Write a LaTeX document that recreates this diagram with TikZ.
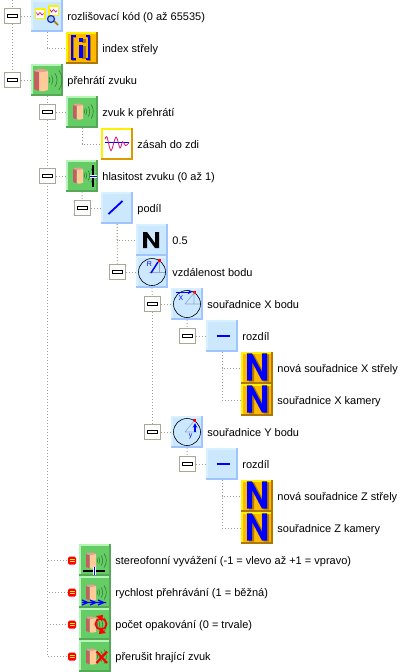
\documentclass[tikz,border=0pt]{standalone}
\usepackage{fontspec}
\setmainfont{Liberation Sans}
\usepackage{xcolor}
\usetikzlibrary{positioning}
\usetikzlibrary{backgrounds}

\definecolor{bluefill}{HTML}{CCE8FF}
\definecolor{bluelight}{HTML}{D8F0FF}
\definecolor{bluedark}{HTML}{A0C4FF}
\definecolor{greenfill}{HTML}{66CC66}
\definecolor{greenlight}{HTML}{B4F4B4}
\definecolor{greendark}{HTML}{55A855}
\definecolor{orangefill}{HTML}{FFB800}
\definecolor{orangedark}{HTML}{B07800}
\definecolor{treegrey}{HTML}{A0A090}
\definecolor{boxgrey}{HTML}{A8A898}
\definecolor{spkred}{HTML}{C06060}
\definecolor{spkpeach}{HTML}{FFCC99}
\definecolor{spktop}{HTML}{E8A090}
\definecolor{spkwave}{HTML}{308030}
\definecolor{wavepink}{HTML}{E0107A}
\definecolor{anglegrey}{HTML}{90A8D0}

\tikzset{
tile/.style n args={3}{shape=rectangle,minimum size=32pt,inner sep=0pt,fill=#1,
  path picture={
    \fill[#2] (path picture bounding box.north west) rectangle +(32,2);
    \fill[#2] (path picture bounding box.north west) rectangle +(2,32);
    \fill[#3] (path picture bounding box.south west) rectangle +(32,-2.5);
    \fill[#3] (path picture bounding box.north east) rectangle +(-2.5,32);
  }},
bluetile/.style={tile={bluefill}{bluelight}{bluedark}},
greentile/.style={tile={greenfill}{greenlight}{greendark}},
orangetile/.style={tile={orangefill}{yellow}{orangedark}},
whitetile/.style={tile={white}{yellow}{orangefill!85!black}},
rowtext/.style={font=\fontsize{11}{13}\selectfont,inner sep=0pt,text height=8pt,text depth=2pt,yshift=-1.2pt},
treeline/.style={draw=treegrey,line width=.9pt,dash pattern=on 1pt off 2pt},
btnminus/.style={shape=rectangle,draw=boxgrey,line width=1.2pt,fill=white,minimum size=15.5pt,inner sep=0pt,
  path picture={
    \draw[black,line width=.9pt] ([shift={(-4.6,-1.4)}]path picture bounding box.center) rectangle +(9.5,3);
  }},
btnred/.style={shape=rectangle,fill=red,rounded corners=1.5pt,minimum width=8pt,minimum height=8pt,inner sep=0pt,
  path picture={
    \draw[yellow,line width=.8pt] ([shift={(-2.5,-1.2)}]path picture bounding box.center) -- +(5,0);
    \draw[yellow,line width=.8pt] ([shift={(-2.5,1.2)}]path picture bounding box.center) -- +(5,0);
  }},
speaker/.pic={
  \fill[spkpeach] (-8,-9) -- (1,-9) -- (1,10) .. controls (-2,11.5) and (-5,11.5) .. (-8,11) -- cycle;
  \fill[spkred] (-13,-9) -- (-8,-8) -- (-8,11) -- (-13,9) -- cycle;
  \fill[spktop] (-13,-9) .. controls (-11,-11.5) and (-2,-12) .. (1,-9) .. controls (-3,-7.5) and (-9,-7.5) .. (-13,-9) -- cycle;
  \foreach \r in {5,8,12,17} \draw[spkwave,line width=.6pt] (-2,0) ++(-35:\r) arc (-35:35:\r);
},
nletter/.pic={
  \fill (-8,8) -- (-8,-8) -- (-4,-8) -- (4,3) -- (4,-8) -- (8,-8) -- (8,8) -- (4,8) -- (-4,-3) -- (-4,8) -- cycle;
},
bign/.pic={
  \pic[fill=orangedark,xscale=1.25,yscale=1.7] at (2,0) {nletter};
  \pic[fill=blue,xscale=1.25,yscale=1.7] at (0,-1) {nletter};
},
framewave/.pic={
  \fill[yellow] (-5.5,-5.5) rectangle (5.5,5.5);
  \fill[white] (-4,-4) rectangle (4,4);
  \draw[wavepink,line width=.7pt] plot[smooth] coordinates {(-3.5,-1) (-2,1.5) (0,-1) (2,1.5) (3.5,0)};
},
circlebase/.pic={
  \draw[black,line width=.6pt,fill=bluefill] (0,0) circle (13.5);
  \fill[red] (6,-13) rectangle (9,-10);
}
}

\begin{document}
\begin{tikzpicture}[x=1pt,y=-1pt]
\useasboundingbox (0,0) rectangle (405,672);
\coordinate (top) at (12.5,0);
% icons, one for each row
\node[bluetile] (kod) at (47,16) {};
\node[orangetile] (index) at (82,48) {};
\node[greentile] (prehrati) at (47,80) {};
\node[greentile] (zvuk) at (82,112) {};
\node[whitetile] (zasah) at (117,144) {};
\node[greentile] (hlasitost) at (82,176) {};
\node[bluetile] (podil) at (117,208) {};
\node[bluetile] (cislo) at (152,240) {};
\node[bluetile] (vzdalenost) at (152,272) {};
\node[bluetile] (bodx) at (187,304) {};
\node[bluetile] (rozdilx) at (222,336) {};
\node[orangetile] (novax) at (257,368) {};
\node[orangetile] (kamerax) at (257,400) {};
\node[bluetile] (body) at (187,432) {};
\node[bluetile] (rozdily) at (222,464) {};
\node[orangetile] (novaz) at (257,496) {};
\node[orangetile] (kameraz) at (257,528) {};
\node[greentile] (stereo) at (95,560) {};
\node[greentile] (rychlost) at (95,592) {};
\node[greentile] (opakovani) at (95,624) {};
\node[greentile] (prerusit) at (95,656) {};
% texts
\node[rowtext,right=4pt of kod] (tkod) {rozlišovací kód (0 až 65535)};
\node[rowtext,right=4pt of index] (tindex) {index střely};
\node[rowtext,right=4pt of prehrati] (tprehrati) {přehrátí zvuku};
\node[rowtext,right=4pt of zvuk] (tzvuk) {zvuk k přehrátí};
\node[rowtext,right=4pt of zasah] (tzasah) {zásah do zdi};
\node[rowtext,right=4pt of hlasitost] (thlasitost) {hlasitost zvuku (0 až 1)};
\node[rowtext,right=4pt of podil] (tpodil) {podíl};
\node[rowtext,right=4pt of cislo] (tcislo) {0.5};
\node[rowtext,right=4pt of vzdalenost] (tvzdalenost) {vzdálenost bodu};
\node[rowtext,right=4pt of bodx] (tbodx) {souřadnice X bodu};
\node[rowtext,right=4pt of rozdilx] (trozdilx) {rozdíl};
\node[rowtext,right=4pt of novax] (tnovax) {nová souřadnice X střely};
\node[rowtext,right=4pt of kamerax] (tkamerax) {souřadnice X kamery};
\node[rowtext,right=4pt of body] (tbody) {souřadnice Y bodu};
\node[rowtext,right=4pt of rozdily] (trozdily) {rozdíl};
\node[rowtext,right=4pt of novaz] (tnovaz) {nová souřadnice Z střely};
\node[rowtext,right=4pt of kameraz] (tkameraz) {souřadnice Z kamery};
\node[rowtext,right=4pt of stereo] (tstereo) {stereofonní vyvážení (-1 = vlevo až +1 = vpravo)};
\node[rowtext,right=4pt of rychlost] (trychlost) {rychlost přehrávání (1 = běžná)};
\node[rowtext,right=4pt of opakovani] (topakovani) {počet opakování (0 = trvale)};
\node[rowtext,right=4pt of prerusit] (tprerusit) {přerušit hrající zvuk};
% collapse buttons
\node[btnminus] (bkod) at (12.5,16) {};
\node[btnminus] (bprehrati) at (12.5,80) {};
\node[btnminus] (bzvuk) at (47.5,112) {};
\node[btnminus] (bhlasitost) at (47.5,176) {};
\node[btnminus] (bpodil) at (82.5,208) {};
\node[btnminus] (bvzdalenost) at (117.5,272) {};
\node[btnminus] (bbodx) at (152.5,304) {};
\node[btnminus] (brozdilx) at (187.5,336) {};
\node[btnminus] (bbody) at (152.5,432) {};
\node[btnminus] (brozdily) at (187.5,464) {};
\node[btnred] (bstereo) at (72,560.5) {};
\node[btnred] (brychlost) at (72,592.5) {};
\node[btnred] (bopakovani) at (72,624.5) {};
\node[btnred] (bprerusit) at (72,656.5) {};
% dotted tree behind everything
\begin{pgfonlayer}{background}
\draw[treeline] (top) -- (bkod);
\draw[treeline] (bkod) -- (bprehrati);
\draw[treeline] (bkod) -- (kod);
\draw[treeline] (bprehrati) -- (prehrati);
\draw[treeline] (kod.south) |- (index);
\draw[treeline] (prehrati.south) |- (bprerusit);
\draw[treeline] (prehrati.south) |- (bopakovani);
\draw[treeline] (prehrati.south) |- (brychlost);
\draw[treeline] (prehrati.south) |- (bstereo);
\draw[treeline] (bzvuk) -- (zvuk);
\draw[treeline] (bhlasitost) -- (hlasitost);
\draw[treeline] (zvuk.south) |- (zasah);
\draw[treeline] (hlasitost.south) -- (bpodil);
\draw[treeline] (bpodil) -- (podil);
\draw[treeline] (podil.south) |- (cislo);
\draw[treeline] (podil.south) -- (bvzdalenost);
\draw[treeline] (bvzdalenost) -- (vzdalenost);
\draw[treeline] (vzdalenost.south) -- (bbodx);
\draw[treeline] (bbodx) -- (bbody);
\draw[treeline] (bbodx) -- (bodx);
\draw[treeline] (bbody) -- (body);
\draw[treeline] (bodx.south) -- (brozdilx);
\draw[treeline] (brozdilx) -- (rozdilx);
\draw[treeline] (rozdilx.south) |- (novax);
\draw[treeline] (rozdilx.south) |- (kamerax);
\draw[treeline] (body.south) -- (brozdily);
\draw[treeline] (brozdily) -- (rozdily);
\draw[treeline] (rozdily.south) |- (novaz);
\draw[treeline] (rozdily.south) |- (kameraz);
\end{pgfonlayer}
% icon pictures
\pic at (40,13.5) {framewave};
\pic at (53.5,10.5) {framewave};
\draw[orangedark,line width=1.6pt] (53,20) -- (58,25);
\draw[spkwave!40!blue,line width=1.2pt,fill=bluedark] (51,19) circle (3.5);
\begin{scope}[shift={(index)}]
\draw[orangedark,line width=2pt] (-6,-11) -- (-9,-11) -- (-9,12) -- (-6,12);
\draw[orangedark,line width=2pt] (5,-11) -- (8,-11) -- (8,12) -- (5,12);
\fill[orangedark] (0,-9) rectangle (4,-5);
\fill[orangedark] (0,-2) rectangle (4,11);
\draw[blue,line width=2pt] (-6,-12) -- (-10,-12) -- (-10,11) -- (-6,11);
\draw[blue,line width=2pt] (4,-12) -- (7,-12) -- (7,11) -- (4,11);
\fill[blue] (-3,-10) rectangle (1,-6);
\fill[blue] (-3,-3) rectangle (1,10);
\end{scope}
\pic at (prehrati) {speaker};
\pic[scale=.72] at ([xshift=.5pt,yshift=.5pt]zvuk) {speaker};
\pic[scale=.72] at ([xshift=.5pt,yshift=.5pt]hlasitost) {speaker};
\draw[black,line width=2pt] (93,165) -- (93,187);
\fill[white] (89.5,174.5) rectangle (96.5,178);
\fill[blue] (89.5,175.7) rectangle (96.5,176.7);
\draw[blue,line width=.7pt] (105,142.7) -- (129,142.7);
\draw[wavepink,line width=.8pt] plot[smooth] coordinates {(105,139) (107,137) (111,150.7) (116,137) (120,148) (122.7,141.7) (125.7,145.7) (129,142.7)};
\draw[blue,line width=1.8pt] (podil) ++(-8.5,6) -- ++(14,-13);
\pic[fill=black] at ([xshift=-1pt]cislo) {nletter};
% circles
\pic at (vzdalenost) {circlebase};
\draw[anglegrey,line width=.6pt] (149,272) -- (165,272);
\draw[anglegrey,line width=.6pt] (159,262) -- (159,272);
\draw[blue,line width=1.5pt] (151,273) -- (158,262);
\node[inner sep=0pt,text=blue,font=\fontsize{7}{7}\selectfont] (lr) at (149.5,264) {R};
\pic at (bodx) {circlebase};
\draw[anglegrey,line width=.6pt] (185,304) -- (200,304) (185,304) -- (194,293) -- (194,304);
\draw[blue,line width=.9pt,->,>=stealth] (176,292) -- (192,292);
\node[inner sep=0pt,text=blue,font=\fontsize{7}{7}\selectfont] (lx) at (181,298) {X};
\pic at (body) {circlebase};
\draw[anglegrey,line width=.6pt] (185,432) -- (197,432) (185,432) -- (194,421);
\draw[blue,line width=1.1pt,->,>=stealth] (195,432) -- (195,423);
\node[inner sep=0pt,text=blue,font=\fontsize{7}{7}\selectfont] (ly) at (190.5,436) {y};
% minus signs and big letters
\draw[blue,line width=2pt] (rozdilx) ++(-5.5,0) -- ++(13.5,0);
\draw[blue,line width=2pt] (rozdily) ++(-5.5,0) -- ++(13.5,0);
\pic at (novax) {bign};
\pic at (kamerax) {bign};
\pic at (novaz) {bign};
\pic at (kameraz) {bign};
% lower four speakers
\pic[scale=.72] at ([xshift=.5pt,yshift=-.5pt]stereo) {speaker};
\pic[scale=.72] at ([xshift=.5pt,yshift=-.5pt]rychlost) {speaker};
\pic[scale=.72] at ([xshift=.5pt,yshift=-.5pt]opakovani) {speaker};
\pic[scale=.72] at ([xshift=.5pt,yshift=-.5pt]prerusit) {speaker};
\draw[black,line width=1.8pt] (83,570.7) -- (105,570.7);
\fill[white] (92.5,567) rectangle (96,575);
\fill[blue] (93.7,567) rectangle (94.8,575);
\foreach \x in {82,90,98} \draw[blue,line width=1.2pt] (\x,600) -- (\x+6,602.5) -- (\x,605) (\x,602.5) -- (\x+8,602.5);
\draw[red,line width=1.8pt] (101,624) circle (5.5);
\fill[red] (96,616) -- (103,615) -- (102,621) -- cycle;
\fill[red] (106,633) -- (99,634) -- (100,627) -- cycle;
\draw[red,line width=2.2pt] (96.5,651.5) -- (107,663) (107,651.5) -- (96.5,663);
\end{tikzpicture}
\end{document}
